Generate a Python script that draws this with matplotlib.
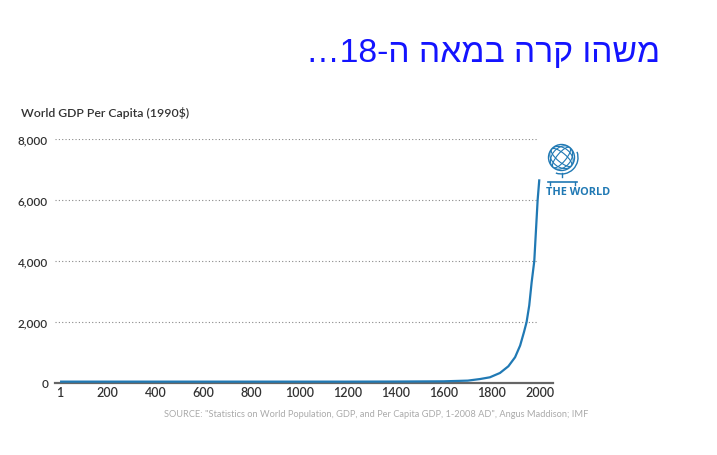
import matplotlib
matplotlib.use('Agg')
import matplotlib.pyplot as plt
from matplotlib.patches import Circle, Ellipse, Arc

# ---------------------------------------------------------------------------
# data
years = [1, 200, 400, 600, 800, 1000, 1200, 1400, 1600, 1700, 1751, 1792,
         1834, 1869, 1897, 1918, 1934, 1945, 1956, 1966, 1977, 1991, 1998]
gdp = [45, 45, 45, 45, 45, 45, 45, 48, 55, 78, 130, 187,
       329, 548, 845, 1227, 1667, 2000, 2543, 3300, 4000, 6000, 6678]

xticks = [1, 200, 400, 600, 800, 1000, 1200, 1400, 1600, 1800, 2000]
yticks = [0, 2000, 4000, 6000, 8000]
ytick_labels = ['0', '2,000', '4,000', '6,000', '8,000']

# logical: "משהו קרה במאה ה-18…" ; matplotlib has no bidi, so draw in visual order
headline = '…18-ה ' + ' '.join(w[::-1] for w in reversed(['משהו', 'קרה', 'במאה']))

y_title = 'World GDP Per Capita (1990$)'
source = ('SOURCE: "Statistics on World Population, GDP, and Per Capita GDP, '
          '1-2008 AD", Angus Maddison; IMF')

blue = '#2079b4'
W, H = 717, 456

# ---------------------------------------------------------------------------
fig = plt.figure(figsize=(W / 100, H / 100), dpi=100)
fig.patch.set_facecolor('white')

ax = fig.add_axes([55 / W, 1 - 384 / H, 498 / W, 244 / H])
ax.set_xlim(-20, 2055)
ax.set_ylim(0, 8000)

ax.hlines([2000, 4000, 6000, 8000], -20, 1992, colors='#888888',
          linestyles=(0, (1, 2)), linewidth=0.8, zorder=1)
ax.plot(years, gdp, color=blue, lw=1.6, zorder=3, solid_capstyle='butt',
        solid_joinstyle='round')

for s in ['top', 'right', 'left']:
    ax.spines[s].set_visible(False)
ax.spines['bottom'].set_color('#666666')
ax.spines['bottom'].set_linewidth(1.6)

ax.set_xticks(xticks)
ax.set_xticklabels([str(t) for t in xticks], fontsize=9, color='#333333',
                   family='Lato', fontweight='semibold')
ax.set_yticks(yticks)
ax.set_yticklabels(ytick_labels, fontsize=8.5, color='#333333',
                   family='Lato', fontweight='semibold')
ax.tick_params(axis='both', length=0)
ax.tick_params(axis='x', pad=2.5)
ax.tick_params(axis='y', pad=5)

# ---------------------------------------------------------------------------
# texts and the globe badge, in pixel coordinates
ov = fig.add_axes([0, 0, 1, 1])
ov.set_xlim(0, W)
ov.set_ylim(H, 0)
ov.axis('off')
ov.patch.set_alpha(0)

ov.text(660, 54, headline, fontsize=24.2, color='#1414ff', ha='right', va='center',
        family=['Liberation Sans', 'DejaVu Sans'])
ov.text(21, 113, y_title, fontsize=8.8, color='#333333', ha='left', va='center',
        family='Lato', fontweight='semibold')
ov.text(588, 415, source, fontsize=6.7, color='#aaaaaa', ha='right', va='center',
        family='Lato')
ov.text(546, 193, 'THE WORLD', fontsize=7.8, color=blue, ha='left', va='center',
        family='Open Sans', fontweight='bold')

cx, cy, r = 561.5, 158.5, 13
globe = Circle((cx, cy), r, fill=False, ec=blue, lw=1.0)
ov.add_patch(globe)
for hgt in [9, 19]:
    for ang in [40, -50]:
        e = Ellipse((cx, cy), 2 * r, hgt, angle=ang, fill=False, ec=blue, lw=0.8)
        ov.add_patch(e)
        e.set_clip_path(globe)
ov.add_patch(Arc((cx, cy), 2 * r + 7, 2 * r + 7, angle=0, theta1=-20, theta2=110,
                 ec=blue, lw=1.0))
ov.plot([cx, cx], [cy + r + 2, cy + r + 6], color=blue, lw=1.0)
ov.plot([548, 577], [183, 183], color=blue, lw=1.2)
ov.plot([550, 550], [183, 186], color=blue, lw=1.0)
ov.plot([575, 575], [183, 186], color=blue, lw=1.0)

fig.savefig('out.png', dpi=100, facecolor='white')
